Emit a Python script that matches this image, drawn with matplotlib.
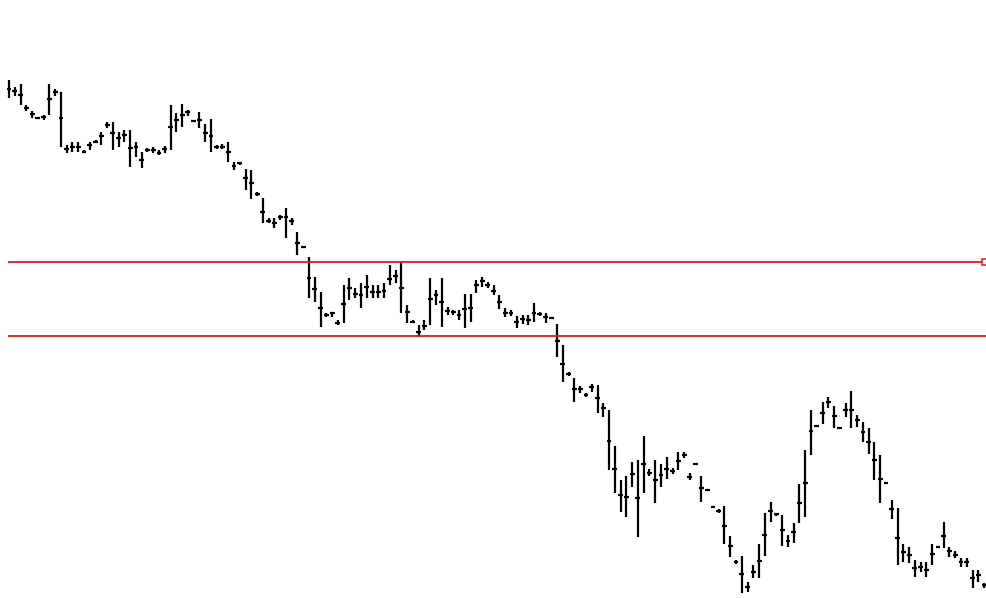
import numpy as np
import matplotlib
matplotlib.use("Agg")
import matplotlib.pyplot as plt

highs = [520, 513, 516, 495, 489, 483, 485, 516, 511, 508,
         455, 458, 458, 450, 458, 460, 468, 478, 478, 468,
         470, 470, 458, 448, 452, 453, 450, 454, 495, 487,
         496, 490, 480, 488, 476, 481, 455, 456, 458, 438,
         438, 431, 430, 408, 402, 382, 382, 385, 392, 382,
         368, 354, 343, 323, 308, 287, 288, 280, 315, 322,
         312, 317, 325, 315, 315, 317, 335, 330, 338, 295,
         280, 275, 280, 322, 310, 322, 293, 290, 290, 306,
         306, 320, 323, 318, 315, 305, 292, 290, 284, 285,
         285, 297, 288, 287, 283, 276, 255, 228, 222, 214,
         207, 216, 215, 197, 190, 154, 120, 124, 138, 140,
         164, 131, 140, 136, 143, 132, 148, 148, 127, 137,
         124, 111, 94, 91, 94, 64, 40, 44, 18, 35,
         56, 87, 98, 87, 85, 65, 77, 116, 150, 190,
         175, 198, 203, 194, 173, 197, 209, 185, 178, 172,
         158, 145, 118, 100, 92, 56, 53, 40, 38, 38,
         56, 54, 78, 53, 49, 42, 42, 30, 30, 17]
lows = [502, 504, 495, 489, 482, 481, 480, 485, 504, 453,
        447, 448, 448, 447, 450, 457, 455, 472, 450, 453,
        458, 433, 443, 432, 448, 447, 445, 447, 450, 468,
        473, 484, 478, 472, 458, 448, 451, 451, 438, 430,
        435, 410, 401, 404, 377, 377, 372, 380, 362, 375,
        345, 352, 302, 298, 273, 283, 283, 275, 277, 300,
        302, 292, 302, 302, 302, 302, 315, 317, 287, 277,
        277, 263, 270, 275, 295, 273, 285, 285, 280, 272,
        278, 307, 313, 312, 305, 291, 283, 284, 272, 276,
        275, 278, 284, 277, 281, 243, 218, 224, 198, 207,
        203, 208, 187, 183, 130, 107, 88, 83, 113, 63,
        107, 124, 97, 113, 121, 126, 130, 142, 120, 135,
        98, 109, 92, 87, 56, 43, 36, 7, 8, 22,
        22, 44, 78, 84, 54, 53, 57, 77, 83, 145,
        173, 176, 192, 172, 171, 183, 172, 173, 158, 146,
        120, 97, 116, 81, 35, 38, 37, 23, 28, 23,
        35, 52, 52, 43, 42, 33, 33, 12, 18, 12]
opens = [511, 509, 505, 492, 486, 482, 483, 501, 508, 482,
         451, 453, 453, 448, 455, 458, 464, 475, 467, 462,
         465, 452, 453, 440, 450, 450, 447, 451, 473, 480,
         485, 488, 479, 480, 467, 464, 453, 453, 448, 434,
         437, 422, 417, 406, 388, 379, 377, 383, 383, 379,
         357, 353, 322, 311, 292, 285, 287, 277, 296, 312,
         306, 305, 313, 308, 308, 309, 321, 324, 312, 288,
         278, 268, 274, 301, 305, 298, 289, 288, 285, 291,
         292, 315, 319, 315, 309, 298, 287, 287, 278, 281,
         280, 287, 286, 283, 282, 259, 236, 226, 211, 211,
         205, 213, 202, 192, 159, 131, 105, 103, 126, 102,
         136, 127, 120, 125, 131, 129, 139, 145, 123, 136,
         112, 110, 93, 89, 74, 54, 38, 26, 13, 28,
         39, 65, 89, 86, 70, 59, 68, 97, 117, 169,
         174, 187, 198, 184, 172, 190, 190, 180, 168, 158,
         140, 121, 117, 91, 62, 48, 45, 32, 33, 30,
         46, 53, 64, 49, 45, 38, 38, 22, 25, 15]
closes = [511, 509, 505, 492, 486, 482, 483, 501, 508, 482,
          451, 453, 453, 448, 455, 458, 464, 475, 467, 462,
          465, 452, 453, 440, 450, 450, 447, 451, 473, 480,
          485, 488, 479, 480, 467, 464, 453, 453, 448, 434,
          437, 422, 417, 406, 388, 379, 377, 383, 383, 379,
          357, 353, 322, 311, 292, 285, 287, 277, 296, 312,
          306, 305, 313, 308, 308, 309, 321, 324, 312, 288,
          278, 268, 274, 301, 305, 298, 289, 288, 285, 291,
          292, 315, 319, 315, 309, 298, 287, 287, 278, 281,
          280, 287, 286, 283, 282, 259, 236, 226, 211, 211,
          205, 213, 202, 192, 159, 131, 105, 103, 126, 102,
          136, 127, 120, 125, 131, 129, 139, 145, 123, 136,
          112, 110, 93, 89, 74, 54, 38, 26, 13, 28,
          39, 65, 89, 86, 70, 59, 68, 97, 117, 169,
          174, 187, 198, 184, 172, 190, 190, 180, 168, 158,
          140, 121, 117, 91, 62, 48, 45, 32, 33, 30,
          46, 53, 64, 49, 45, 38, 38, 22, 25, 15]

resistance = 338
support = 264.5

fig = plt.figure(figsize=(9.87, 5.98), dpi=100)
ax = fig.add_axes([0, 0, 1, 1])
ax.set_axis_off()

x = np.arange(len(highs))
tick = 0.42
lw = 1.6
ax.vlines(x, lows, highs, color="black", linewidth=lw)
ax.hlines(opens, x - tick, x, color="black", linewidth=lw)
ax.hlines(closes, x, x + tick, color="black", linewidth=lw)

red = "#e01818"
ax.hlines([resistance, support], -0.17, 170, color=red, linewidth=1.3)
ax.plot([169.15], [resistance], marker="s", markersize=4.5,
        markerfacecolor="white", markeredgecolor=red, markeredgewidth=1.1)

ax.set_xlim(-1.56, 169.5)
ax.set_ylim(2, 600)

fig.savefig("out.png", dpi=100, facecolor="white")
